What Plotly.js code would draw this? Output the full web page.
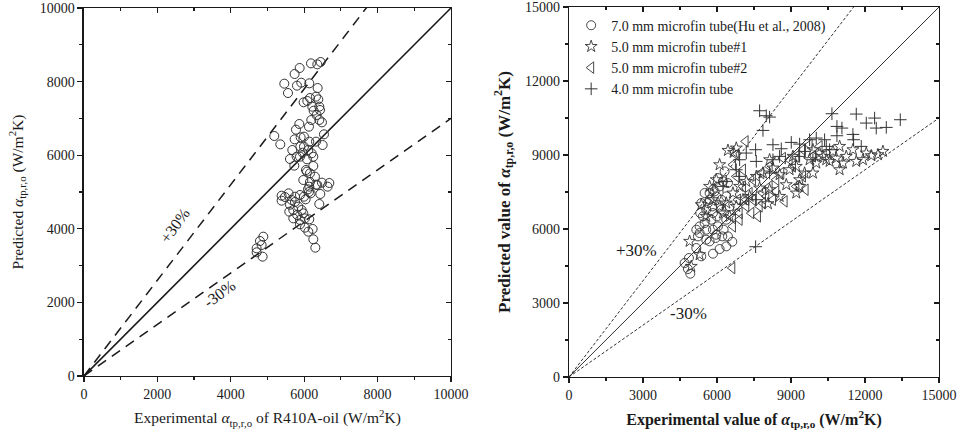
<!DOCTYPE html>
<html><head><meta charset="utf-8">
<script src="https://cdn.plot.ly/plotly-3.0.1.min.js"></script>
<style>html,body{margin:0;padding:0;background:#fff}</style>
</head><body><div id="chart" style="width:964px;height:438px"></div>
<script>
// ---- Left panel: R410A-oil, 7.0 mm ----
const leftExp = [6186,6358,6449,5877,5740,5459,5559,5804,5922,6140,
 6367,6158,6322,6385,5986,6086,6222,6413,6258,6431,
 6340,6413,6485,6195,6131,5868,5777,5740,5186,5350,
 5995,5904,6140,6322,6540,6503,5895,5995,5677,5613,
 5731,5886,5958,6113,6204,6077,6249,6249,6049,6158,
 6294,6322,6485,6685,6640,6440,6358,6158,6104,6176,
 6140,5386,5477,5577,5386,5659,5750,5886,5613,5704,
 5840,5931,5813,5704,5977,5886,6022,6140,5886,6022,
 6113,6231,6249,6304,6413,6040,6131,4887,4796,4841,
 4705,4705,4868,5977,6077,5795,5995,5750,5595];
const leftPred = [8496,8469,8533,8370,8207,7944,7690,7890,7971,7953,
 7826,7554,7591,7518,7437,7473,7319,7319,7210,7228,
 7092,6957,6893,6957,6775,6848,6694,6431,6522,6295,
 6504,6486,6368,6368,6567,6277,6232,6232,6141,5897,
 5716,5960,6069,6141,6051,5888,5960,5706,5598,5507,
 5417,5199,5254,5245,5145,4946,5190,5272,5072,4964,
 5145,4900,4864,4964,4764,4783,4873,4919,4656,4511,
 4601,4511,4375,4284,4420,4239,4284,4257,4121,4031,
 3922,3995,3714,3487,4674,4801,5000,3786,3668,3560,
 3469,3361,3243,5326,5553,5960,4873,4728,4466];

// ---- Right panel series ----
const seriesNames = ["7.0 mm microfin tube(Hu et al., 2008)","5.0 mm microfin tube#1","5.0 mm microfin tube#2","4.0 mm microfin tube"];
const hu7Exp = [4688,4864,4823,4918,5161,5363,5836,6107,6377,6620,
 5701,5944,6215,5296,5566,5836,6039,6269,5499,5769,
 6000,6377,5323,5566,5809,5363,5701,5971,6107,6039,
 6309,5904,5701,6174,6512,6377,5296,5161,5566,5228,
 5971,6444,5431,5836,6174,5634,6444,6242,5836,5499];
const hu7Pred = [4620,4823,4377,4188,5228,4891,4999,5188,5296,5485,
 5499,5634,5701,5836,5971,5971,6107,5971,6242,6377,
 6512,6377,6647,6782,6917,7052,7187,7322,7728,8066,
 8336,7525,7458,7187,6917,7322,6107,5971,5566,5701,
 5769,5701,6512,6647,6782,7052,7863,7930,7593,7458];
const tube5aExp = [4891,5296,4958,6107,6444,6782,6674,5363,5566,5836,
 6107,6377,6647,6917,7187,7593,8066,7863,8268,8538,
 8944,9214,9551,9754,10024,10294,10565,10835,10970,11240,
 11510,11645,12051,12254,12726,12524,10970,10700,10430,9889,
 9349,8538,9214,8809,8133,7728,7322,7052,6782,6512,
 6242,9349,9889,10159,5701,5971,8133,9079,11105,11915];
const tube5aPred = [5499,4958,4485,8606,9187,9281,9106,6985,6512,7187,
 6917,7052,7458,7728,7930,8133,7025,8268,8471,8201,
 8403,8538,8268,8808,8673,8944,8741,8876,8403,8944,
 9214,8741,9079,8971,9146,9011,9349,9146,8808,8268,
 7728,7322,7458,7795,7593,7660,7322,7187,6917,6512,
 6647,7998,9214,9079,7728,7998,8808,8944,8673,8808];
const tube5bExp = [7160,6647,6782,6620,6782,7052,7187,7390,7660,6647,
 6917,7187,7457,7863,8133,8403,8606,8944,9214,9484,
 9754,9889,9484,9214,8741,8268,7998,7728,6647,6917,
 9592,9079,8673,7457,7795,7052,8133,10159,7322,6849,
 7863,8403];
const tube5bPred = [9552,8606,9011,4418,8133,7728,7187,6647,6512,6444,
 6647,6917,7187,7458,7728,7998,8268,8808,8944,9214,
 9416,8944,8133,7728,7120,7187,7322,6917,6107,6377,
 7593,8538,8876,7998,8268,8403,8538,9349,7458,7187,
 7052,7525];
const tube4Exp = [7728,7998,8133,7863,8268,8606,7566,7187,6917,7593,
 9011,9349,9754,10024,10362,10659,10862,11064,10862,11510,
 11537,11645,12051,12389,12456,12862,13429,11848,10430,6917,
 6242,6782,6377,8268,8538,9349,9889,7593,10565,9551,
 8133,7566];
const tube4Pred = [10794,10592,10537,9997,9416,9254,9214,9079,8808,8741,
 9511,9443,9619,9687,9619,10673,10159,10092,9781,9835,
 9619,10659,10294,10497,10092,10119,10430,9349,9349,8133,
 7728,8403,7930,8808,8944,8944,8808,7187,9214,9146,
 8268,5282];

// reference lines
const leftRange = [0, 10000];
const rightRange = [0, 15000];
const devFactors = [1.3, 0.7];
const devLabels = ["+30%", "-30%"];

const FONT = "Liberation Serif";
const INK = "#1a1a1a";

function refLine(range, f, xa, ya, dash, width) {
  return {x: range, y: range.map(v => v * f), xaxis: xa, yaxis: ya, mode: 'lines',
    line: {color: INK, width: width, dash: dash}, showlegend: false, hoverinfo: 'skip'};
}

const traces = [
  refLine(leftRange, 1, 'x', 'y', 'solid', 1.6),
  refLine(leftRange, devFactors[0], 'x', 'y', '10px,7px', 1.5),
  refLine(leftRange, devFactors[1], 'x', 'y', '10px,7px', 1.5),
  {x: leftExp, y: leftPred, xaxis: 'x', yaxis: 'y', mode: 'markers', showlegend: false,
   marker: {symbol: 'circle-open', size: 9, color: '#333', line: {width: 1, color: '#333'}}},
  refLine(rightRange, 1, 'x2', 'y2', 'solid', 0.9),
  refLine(rightRange, devFactors[0], 'x2', 'y2', '3px,2px', 0.9),
  refLine(rightRange, devFactors[1], 'x2', 'y2', '3px,2px', 0.9),
  {x: hu7Exp, y: hu7Pred, xaxis: 'x2', yaxis: 'y2', mode: 'markers', name: seriesNames[0],
   marker: {symbol: 'circle-open', size: 9, color: '#333', line: {width: 0.9, color: '#333'}}},
  {x: tube5aExp, y: tube5aPred, xaxis: 'x2', yaxis: 'y2', mode: 'markers', name: seriesNames[1],
   marker: {symbol: 'star-open', size: 9, color: '#333', line: {width: 0.9, color: '#333'}}},
  {x: tube5bExp, y: tube5bPred, xaxis: 'x2', yaxis: 'y2', mode: 'markers', name: seriesNames[2],
   marker: {symbol: 'triangle-left-open', size: 10, color: '#333', line: {width: 0.9, color: '#333'}}},
  {x: tube4Exp, y: tube4Pred, xaxis: 'x2', yaxis: 'y2', mode: 'markers', name: seriesNames[3],
   marker: {symbol: 'cross-thin-open', size: 9, color: '#333', line: {width: 1, color: '#333'}}},
  // empty traces to activate mirrored axes
  {x: [], y: [], xaxis: 'x3', yaxis: 'y', mode: 'markers', showlegend: false},
  {x: [], y: [], xaxis: 'x', yaxis: 'y3', mode: 'markers', showlegend: false},
  {x: [], y: [], xaxis: 'x4', yaxis: 'y2', mode: 'markers', showlegend: false},
  {x: [], y: [], xaxis: 'x2', yaxis: 'y4', mode: 'markers', showlegend: false}
];

const tickFont = {family: FONT, size: 14, color: INK};
function mainAxis(domain, range, dtick, title, lw) {
  return {domain: domain, range: range, dtick: dtick, tick0: 0, tickformat: 'd',
    ticks: 'outside', ticklen: 5, tickwidth: 1.2, tickcolor: INK, ticklabeloverflow: 'allow',
    minor: {dtick: dtick / 2, ticks: 'outside', ticklen: 3, tickwidth: 1.2, tickcolor: INK},
    showline: true, linecolor: INK, linewidth: lw, showgrid: false, zeroline: false,
    tickfont: tickFont, title: title, fixedrange: true};
}
function mirrorAxis(over, side, range, dtick, lw) {
  return {overlaying: over, side: side, range: range, dtick: dtick, tick0: 0,
    ticks: 'inside', ticklen: 5, tickwidth: 1.2, tickcolor: INK, showticklabels: false,
    minor: {dtick: dtick / 2, ticks: 'inside', ticklen: 3, tickwidth: 1.2, tickcolor: INK},
    showline: true, linecolor: INK, linewidth: lw, showgrid: false, zeroline: false, fixedrange: true};
}

const layout = {
  width: 964, height: 438, margin: {l: 0, r: 0, t: 0, b: 0},
  paper_bgcolor: '#fff', plot_bgcolor: 'rgba(0,0,0,0)',
  font: {family: FONT, color: INK},
  xaxis: mainAxis([0.0871, 0.4678], leftRange, 2000,
    {text: 'Experimental <i>α</i><sub>tp,r,o</sub> of R410A-oil (W/m<sup>2</sup>K)', font: {family: FONT, size: 15.5, color: INK}, standoff: 11}, 1.5),
  yaxis: Object.assign(mainAxis([0.1416, 0.9817], leftRange, 2000,
    {text: 'Predicted <i>α</i><sub>tp,r,o</sub> (W/m<sup>2</sup>K)', font: {family: FONT, size: 15.5, color: INK}, standoff: 12}, 1.5), {anchor: 'x'}),
  xaxis2: Object.assign(mainAxis([0.5902, 0.9741], rightRange, 3000,
    {text: '<b>Experimental value of <i>α</i><sub>tp,r,o</sub> (W/m<sup>2</sup>K)</b>', font: {family: FONT, size: 16, color: INK}, standoff: 11}, 1.2), {anchor: 'y2'}),
  yaxis2: Object.assign(mainAxis([0.1393, 0.984], rightRange, 3000,
    {text: '<b>Predicted value of <i>α</i><sub>tp,r,o</sub> (W/m<sup>2</sup>K)</b>', font: {family: FONT, size: 17, color: INK}, standoff: 10}, 1.2), {anchor: 'x2'}),
  xaxis3: Object.assign(mirrorAxis('x', 'top', leftRange, 2000, 1.5), {anchor: 'y'}),
  yaxis3: Object.assign(mirrorAxis('y', 'right', leftRange, 2000, 1.5), {anchor: 'x'}),
  xaxis4: Object.assign(mirrorAxis('x2', 'top', rightRange, 3000, 1.2), {anchor: 'y2'}),
  yaxis4: Object.assign(mirrorAxis('y2', 'right', rightRange, 3000, 1.2), {anchor: 'x2'}),
  showlegend: true,
  legend: {x: 0.5925, y: 0.978, xanchor: 'left', yanchor: 'top', bgcolor: 'rgba(0,0,0,0)',
    font: {family: FONT, size: 14, color: INK}, itemwidth: 30, tracegroupgap: 0},
  annotations: [
    {xref: 'x', yref: 'y', x: 2480, y: 4080, text: devLabels[0], showarrow: false, textangle: -54,
     font: {family: FONT, size: 16, color: INK}},
    {xref: 'x', yref: 'y', x: 3700, y: 2250, text: devLabels[1], showarrow: false, textangle: -36,
     font: {family: FONT, size: 16, color: INK}},
    {xref: 'x2', yref: 'y2', x: 2732, y: 5132, text: devLabels[0], showarrow: false,
     font: {family: FONT, size: 17, color: INK}},
    {xref: 'x2', yref: 'y2', x: 4865, y: 2566, text: devLabels[1], showarrow: false,
     font: {family: FONT, size: 17, color: INK}}
  ]
};

Plotly.newPlot('chart', traces, layout, {displayModeBar: false, staticPlot: true});
</script>
</body></html>
